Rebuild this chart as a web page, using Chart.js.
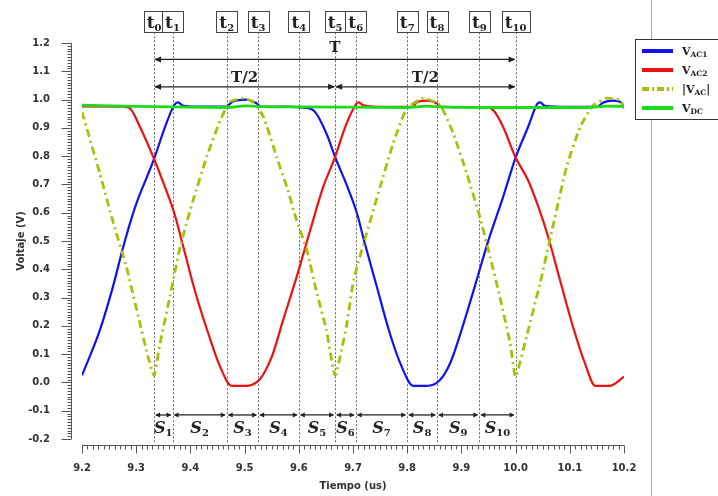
<!DOCTYPE html>
<html>
<head>
<meta charset="utf-8">
<script src="https://cdn.jsdelivr.net/npm/chart.js@4.4.1/dist/chart.umd.min.js"></script>
<style>
  html, body { margin: 0; padding: 0; background: #fff; }
  #wrap { position: relative; width: 718px; height: 496px; }
  #edge { position: absolute; left: 651px; top: 0; width: 1px; height: 496px; background: #a8a8a8; }
  canvas { position: absolute; left: 0; top: 0; }
</style>
</head>
<body>
<div id="wrap">
  <div id="edge"></div>
  <canvas id="myChart" width="718" height="496"></canvas>
</div>
<script>
// V_AC1 (blue)
const vac1T = [9.200, 9.233, 9.258, 9.276, 9.298, 9.333, 9.350, 9.370, 9.377, 9.387, 9.420, 9.465,
  9.479, 9.504, 9.522, 9.531, 9.570, 9.605, 9.627, 9.651, 9.667, 9.690, 9.707, 9.722, 9.744, 9.768,
  9.790, 9.811, 9.836, 9.860, 9.879, 9.904, 9.928, 9.950, 9.977, 10.000, 10.023, 10.040, 10.045,
  10.054, 10.100, 10.150, 10.162, 10.180, 10.196, 10.200];
const vac1V = [0.025, 0.185, 0.345, 0.479, 0.620, 0.790, 0.886, 0.980, 0.990, 0.978, 0.975, 0.975,
  0.994, 1.000, 0.987, 0.974, 0.975, 0.972, 0.962, 0.880, 0.797, 0.690, 0.600, 0.490, 0.338, 0.173,
  0.055, -0.012, -0.012, 0.008, 0.067, 0.208, 0.361, 0.503, 0.656, 0.795, 0.903, 0.985, 0.990,
  0.978, 0.974, 0.974, 0.990, 0.996, 0.987, 0.970];

// V_AC2 (red)
const vac2T = [9.200, 9.276, 9.289, 9.307, 9.333, 9.353, 9.370, 9.387, 9.408, 9.433, 9.455, 9.476,
  9.504, 9.528, 9.550, 9.571, 9.596, 9.621, 9.645, 9.667, 9.684, 9.700, 9.710, 9.719, 9.760, 9.811,
  9.817, 9.836, 9.854, 9.861, 9.910, 9.947, 9.959, 9.977, 10.000, 10.023, 10.043, 10.060, 10.082,
  10.106, 10.128, 10.147, 10.174, 10.200];
const vac2V = [0.976, 0.975, 0.968, 0.903, 0.790, 0.691, 0.600, 0.479, 0.326, 0.173, 0.055, -0.012,
  -0.012, 0.011, 0.090, 0.220, 0.373, 0.538, 0.691, 0.797, 0.895, 0.965, 0.990, 0.980, 0.974, 0.974,
  0.990, 0.996, 0.987, 0.975, 0.973, 0.973, 0.962, 0.903, 0.795, 0.715, 0.615, 0.515, 0.361,
  0.196, 0.067, -0.012, -0.012, 0.020];

// |V_AC| (dash-dot)
const vacAbsT = [9.200, 9.233, 9.258, 9.282, 9.304, 9.322, 9.333, 9.344, 9.362, 9.381, 9.405, 9.430,
  9.455, 9.473, 9.498, 9.516, 9.535, 9.559, 9.578, 9.596, 9.615, 9.632, 9.651, 9.667, 9.688, 9.701,
  9.725, 9.750, 9.774, 9.799, 9.830, 9.861, 9.885, 9.910, 9.934, 9.953, 9.971, 9.990, 10.000,
  10.020, 10.045, 10.070, 10.094, 10.119, 10.143, 10.168, 10.193, 10.200];
const vacAbsV = [0.956, 0.738, 0.562, 0.408, 0.232, 0.090, 0.025, 0.138, 0.302, 0.479, 0.644, 0.797,
  0.927, 0.992, 1.005, 0.990, 0.938, 0.797, 0.691, 0.573, 0.467, 0.326, 0.185, 0.025, 0.200, 0.361,
  0.527, 0.691, 0.845, 0.968, 1.005, 0.980, 0.880, 0.738, 0.585, 0.444, 0.302, 0.138, 0.020,
  0.161, 0.350, 0.562, 0.762, 0.903, 0.980, 1.005, 0.998, 0.970];

// V_DC (green)
const vdcT = [9.200, 9.300, 9.400, 9.470, 9.500, 9.530, 9.600, 9.700, 9.800, 9.835, 9.870, 9.950,
  10.050, 10.130, 10.170, 10.200];
const vdcV = [0.980, 0.976, 0.973, 0.972, 0.978, 0.975, 0.974, 0.973, 0.972, 0.977, 0.973, 0.972,
  0.972, 0.972, 0.977, 0.976];

// time markers t0..t10 and interval names
const tMarks = [9.333, 9.367, 9.467, 9.525, 9.600, 9.667, 9.705, 9.800, 9.855, 9.933, 10.000];
const tNames = ["0", "1", "2", "3", "4", "5", "6", "7", "8", "9", "10"];
const sNames = ["1", "2", "3", "4", "5", "6", "7", "8", "9", "10"];

const legendNames = [["V", "AC1", ""], ["V", "AC2", ""], ["|V", "AC", "|"], ["V", "DC", ""]];

const X_MIN = 9.2, X_MAX = 10.2, Y_MIN = -0.2, Y_MAX = 1.2;

function pts(ts, vs) {
  return ts.map((t, i) => ({ x: t, y: vs[i] }));
}

function fmt(v) {
  return Math.abs(v) < 1e-9 ? "0.0" : Number(v).toFixed(1);
}

const SANS = '"DejaVu Sans"';
const SERIF = '"DejaVu Serif"';

function drawParts(ctx, parts, x, baseline, centered) {
  let w = 0;
  parts.forEach((p) => {
    ctx.font = p.font;
    p.w = ctx.measureText(p.text).width;
    w += p.w;
  });
  let cx = centered ? x - w / 2 : x;
  ctx.textAlign = "left";
  ctx.textBaseline = "alphabetic";
  parts.forEach((p) => {
    ctx.font = p.font;
    ctx.fillText(p.text, cx, baseline + (p.dy || 0));
    cx += p.w;
  });
  return w;
}

function arrow(ctx, x1, x2, y, head, hw) {
  ctx.beginPath();
  ctx.moveTo(x1 + 1, y);
  ctx.lineTo(x2 - 1, y);
  ctx.stroke();
  ctx.beginPath();
  ctx.moveTo(x1, y);
  ctx.lineTo(x1 + head, y - hw);
  ctx.lineTo(x1 + head, y + hw);
  ctx.closePath();
  ctx.moveTo(x2, y);
  ctx.lineTo(x2 - head, y - hw);
  ctx.lineTo(x2 - head, y + hw);
  ctx.closePath();
  ctx.fill();
}

// axes with minor ticks, offset from the plot like the original
const axesPlugin = {
  id: "axes",
  afterDraw(chart) {
    const { ctx, scales: { x, y }, chartArea: a } = chart;
    ctx.save();
    ctx.strokeStyle = "#555";
    ctx.lineWidth = 1;
    ctx.beginPath();
    const ax = Math.round(a.left - 11) + 0.5;
    ctx.moveTo(ax, y.getPixelForValue(Y_MAX));
    ctx.lineTo(ax, y.getPixelForValue(Y_MIN));
    for (let i = 0; i <= 140; i++) {
      const py = Math.round(y.getPixelForValue(Y_MIN + i * 0.01)) + 0.5;
      const len = i % 10 === 0 ? 10 : 4;
      ctx.moveTo(ax - len, py);
      ctx.lineTo(ax, py);
    }
    const ay = Math.round(a.bottom + 6) + 0.5;
    ctx.moveTo(x.getPixelForValue(X_MIN), ay);
    ctx.lineTo(x.getPixelForValue(X_MAX), ay);
    for (let i = 0; i <= 100; i++) {
      const px = Math.round(x.getPixelForValue(X_MIN + i * 0.01)) + 0.5;
      const len = i % 10 === 0 ? 8 : 4;
      ctx.moveTo(px, ay);
      ctx.lineTo(px, ay + len);
    }
    ctx.stroke();
    ctx.restore();
  },
};

// t markers, period arrows, S intervals
const markPlugin = {
  id: "marks",
  beforeDatasetsDraw(chart) {
    const { ctx, scales: { x, y } } = chart;
    ctx.save();
    ctx.strokeStyle = "#666";
    ctx.lineWidth = 1;
    ctx.setLineDash([2, 2]);
    ctx.beginPath();
    tMarks.forEach((t) => {
      const px = Math.round(x.getPixelForValue(t)) + 0.5;
      ctx.moveTo(px, y.getPixelForValue(1.238));
      ctx.lineTo(px, y.getPixelForValue(-0.213));
    });
    ctx.stroke();
    ctx.restore();
  },
  afterDraw(chart) {
    const { ctx, scales: { x, y } } = chart;
    ctx.save();
    ctx.fillStyle = "#222";
    ctx.strokeStyle = "#222";
    ctx.lineWidth = 1.3;

    // boxed t labels
    const boxTop = Math.round(y.getPixelForValue(1.312)) + 0.5;
    const boxBot = Math.round(y.getPixelForValue(1.238)) + 0.5;
    tMarks.forEach((t, i) => {
      const px = x.getPixelForValue(t);
      const parts = [
        { text: "t", font: `bold 17px ${SERIF}` },
        { text: tNames[i], font: `bold 10px ${SERIF}`, dy: 3 },
      ];
      ctx.font = parts[0].font;
      let w = ctx.measureText("t").width;
      ctx.font = parts[1].font;
      w += ctx.measureText(tNames[i]).width;
      const bx = Math.round(px - w / 2 - 3) + 0.5;
      ctx.fillStyle = "#fff";
      ctx.fillRect(bx, boxTop, Math.round(w + 6), boxBot - boxTop);
      ctx.strokeStyle = "#444";
      ctx.lineWidth = 1;
      ctx.strokeRect(bx, boxTop, Math.round(w + 6), boxBot - boxTop);
      ctx.fillStyle = "#222";
      drawParts(ctx, parts, px, boxBot - 4.5, true);
    });

    ctx.strokeStyle = "#222";
    ctx.lineWidth = 1.3;
    const p0 = x.getPixelForValue(tMarks[0]);
    const p5 = x.getPixelForValue(tMarks[5]);
    const p10 = x.getPixelForValue(tMarks[10]);

    // T
    const yT = y.getPixelForValue(1.142);
    arrow(ctx, p0, p10, yT, 7, 3);
    drawParts(ctx, [{ text: "T", font: `bold 15px ${SERIF}` }], (p0 + p10) / 2, y.getPixelForValue(1.168), true);

    // T/2
    const yH = y.getPixelForValue(1.045);
    arrow(ctx, p0, p5, yH, 7, 3);
    arrow(ctx, p5, p10, yH, 7, 3);
    drawParts(ctx, [{ text: "T/2", font: `bold 15px ${SERIF}` }], (p0 + p5) / 2, y.getPixelForValue(1.061), true);
    drawParts(ctx, [{ text: "T/2", font: `bold 15px ${SERIF}` }], (p5 + p10) / 2, y.getPixelForValue(1.061), true);

    // S intervals
    const yS = y.getPixelForValue(-0.115);
    const yL = y.getPixelForValue(-0.179);
    for (let i = 0; i < tMarks.length - 1; i++) {
      const a1 = x.getPixelForValue(tMarks[i]);
      const a2 = x.getPixelForValue(tMarks[i + 1]);
      arrow(ctx, a1 + 1, a2 - 1, yS, 5, 2.5);
      drawParts(ctx, [
        { text: "S", font: `italic bold 16px ${SERIF}` },
        { text: sNames[i], font: `bold 10px ${SERIF}`, dy: 3 },
      ], (a1 + a2) / 2, yL, true);
    }
    ctx.restore();

    // legend
    ctx.save();
    ctx.fillStyle = "#fff";
    ctx.fillRect(635.5, 39.5, 100, 80);
    ctx.strokeStyle = "#333";
    ctx.lineWidth = 1;
    ctx.strokeRect(635.5, 39.5, 100, 80);
    chart.data.datasets.forEach((ds, i) => {
      const ry = 51 + i * 19;
      ctx.strokeStyle = ds.borderColor;
      ctx.lineWidth = 4;
      ctx.setLineDash(ds.borderDash ? [7, 3, 2, 3] : []);
      ctx.beginPath();
      ctx.moveTo(642, ry);
      ctx.lineTo(673, ry);
      ctx.stroke();
      ctx.setLineDash([]);
      ctx.fillStyle = "#222";
      const n = legendNames[i];
      const parts = [
        { text: n[0], font: `bold 11px ${SERIF}` },
        { text: n[1], font: `bold 7.5px ${SERIF}`, dy: 2 },
      ];
      if (n[2]) parts.push({ text: n[2], font: `bold 11px ${SERIF}` });
      drawParts(ctx, parts, 682, ry + 4, false);
    });
    ctx.restore();
  },
};

const tickFont = { family: SANS, size: 10, weight: "bold" };

new Chart(document.getElementById("myChart"), {
  type: "line",
  data: {
    datasets: [
      { label: "V_AC1", data: pts(vac1T, vac1V), borderColor: "#1212ee", borderWidth: 2.2, order: 3 },
      { label: "V_AC2", data: pts(vac2T, vac2V), borderColor: "#ee1111", borderWidth: 2.2, order: 2 },
      { label: "|V_AC|", data: pts(vacAbsT, vacAbsV), borderColor: "#a8c00c", borderWidth: 2.8, borderDash: [8, 4, 2, 4], order: 1, cubicInterpolationMode: "default", tension: 0.15 },
      { label: "V_DC", data: pts(vdcT, vdcV), borderColor: "#18dd18", borderWidth: 2.8, order: 0 },
    ],
  },
  options: {
    responsive: false,
    animation: false,
    layout: { padding: { top: 43, right: 94, left: 0, bottom: 0 } },
    elements: {
      point: { radius: 0 },
      line: { cubicInterpolationMode: "monotone", fill: false },
    },
    plugins: { legend: { display: false }, tooltip: { enabled: false } },
    scales: {
      x: {
        type: "linear",
        min: X_MIN,
        max: X_MAX,
        grid: { display: false, drawTicks: false },
        border: { display: false },
        ticks: {
          stepSize: 0.1,
          maxTicksLimit: 20,
          autoSkip: false,
          maxRotation: 0,
          padding: 23,
          color: "#333",
          font: tickFont,
          callback: fmt,
        },
        title: { display: true, text: "Tiempo (us)", color: "#333", font: tickFont, padding: { top: 0, bottom: 4 } },
        afterFit: (s) => { s.height = 57; },
      },
      y: {
        min: Y_MIN,
        max: Y_MAX,
        grid: { display: false, drawTicks: false },
        border: { display: false },
        ticks: {
          stepSize: 0.1,
          maxTicksLimit: 20,
          autoSkip: false,
          padding: 32,
          color: "#333",
          font: tickFont,
          callback: fmt,
        },
        title: { display: true, text: "Voltaje (V)", color: "#333", font: tickFont, padding: { top: 15, bottom: 0 } },
        afterFit: (s) => { s.width = 82; },
      },
    },
  },
  plugins: [axesPlugin, markPlugin],
});
</script>
</body>
</html>
